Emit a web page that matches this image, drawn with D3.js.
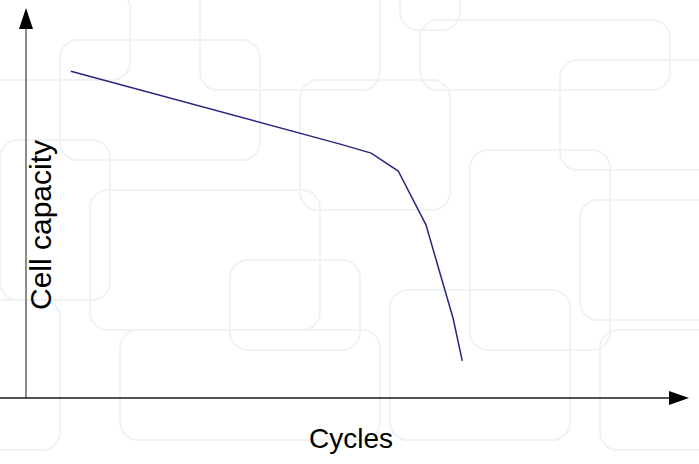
<!DOCTYPE html>
<html><head><meta charset="utf-8">
<script src="https://cdn.jsdelivr.net/npm/d3@7"></script>
<style>html,body{margin:0;padding:0;background:#fff;}svg{display:block;}</style>
</head><body>
<script>
// Data (arbitrary units)
const cycles   = [6.8, 47.6, 52.3, 56.4, 60.6, 64.7, 66.1];
const capacity = [83.8, 65.1, 62.8, 58.2, 44.4, 20.5, 9.5];
const xLabel = "Cycles";
const yLabel = "Cell capacity";

const W = 699, H = 464;
const svg = d3.select("body").append("svg").attr("width", W).attr("height", H);

// faint decorative background of rounded rectangles
const bg = svg.append("g").attr("fill", "none").attr("stroke", "#edf3f6").attr("stroke-width", 2);
const deco = [[-20,-10,150,90],[60,40,200,120],[200,-20,180,110],[400,-20,60,50],[420,20,250,70],[560,60,160,110],
  [0,140,110,160],[90,190,230,140],[300,80,150,130],[470,150,140,200],[580,200,140,120],[120,330,260,110],
  [390,290,180,150],[600,330,120,120],[-30,300,90,150],[230,260,130,90]];
bg.selectAll("rect").data(deco).join("rect")
  .attr("x", d=>d[0]).attr("y", d=>d[1]).attr("width", d=>d[2]).attr("height", d=>d[3]).attr("rx", 18);

const x = d3.scaleLinear().domain([0, 100]).range([26, 686]);
const y = d3.scaleLinear().domain([0, 100]).range([398, 8]);

// axes
svg.append("line").attr("x1", x(0)).attr("x2", x(0)).attr("y1", y(0)).attr("y2", 26)
  .attr("stroke", "#6e6e6e").attr("stroke-width", 1.6);
svg.append("path").attr("d", `M${x(0)},${y(100)} L${x(0)-7},${y(100)+21} L${x(0)+7},${y(100)+21} Z`).attr("fill", "#000");
svg.append("line").attr("x1", 0).attr("x2", 670).attr("y1", y(0)).attr("y2", y(0))
  .attr("stroke", "#1a1a1a").attr("stroke-width", 1.6);
svg.append("path").attr("d", `M689,${y(0)} L669,${y(0)-7} L669,${y(0)+7} Z`).attr("fill", "#000");

// data line
const pts = cycles.map((c, i) => [c, capacity[i]]);
svg.append("path").datum(pts)
  .attr("d", d3.line().x(d => x(d[0])).y(d => y(d[1])))
  .attr("fill", "none").attr("stroke", "#262680").attr("stroke-width", 1.5);

// labels
svg.append("text").attr("x", 351).attr("y", 448).attr("text-anchor", "middle")
  .attr("font-family", "Liberation Sans, Arial, sans-serif").attr("font-size", 28).attr("fill", "#000").text(xLabel);
svg.append("text").attr("transform", "translate(51,225) rotate(-90)").attr("text-anchor", "middle")
  .attr("font-family", "Liberation Sans, Arial, sans-serif").attr("font-size", 30).attr("fill", "#000").text(yLabel);
</script>
</body></html>
